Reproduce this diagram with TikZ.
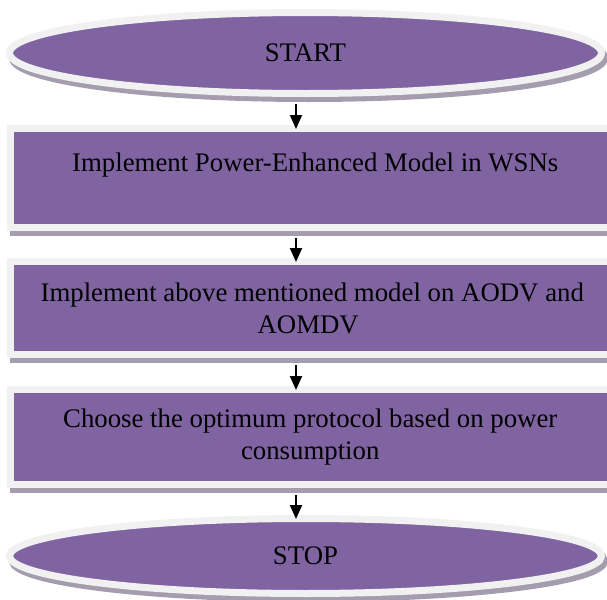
\documentclass[tikz,border=0pt]{standalone}
\usepackage{fontspec}
\setmainfont{Liberation Serif}
\usepackage{tikz}
\usetikzlibrary{shapes.geometric, arrows.meta, positioning}
\tikzset{>={Triangle[width=6pt,length=7pt]}}
\definecolor{mypurple}{HTML}{8064A2}
\definecolor{myrim}{HTML}{F1F1F1}
\definecolor{myshadow}{HTML}{A39DAD}

\tikzset{
	shadowed/.style={preaction={draw=myshadow, fill=myshadow, transform canvas={xshift=1.5pt, yshift=-2.5pt}}},
	flowbox/.style={rectangle, shadowed, draw=myrim, fill=mypurple, line width=3.5pt, minimum width=304.75pt, inner sep=0pt, align=center, font=\fontsize{13.4}{16}\selectfont},
	terminal/.style={ellipse, shadowed, draw=myrim, fill=mypurple, line width=3.5pt, minimum width=296pt, inner sep=0pt, font=\fontsize{13.4}{16}\selectfont},
	flowarrow/.style={->, line width=1pt, black, shorten <=3.5pt, shorten >=-2pt}
}

\begin{document}
\begin{tikzpicture}[x=0.5pt, y=-0.5pt]
		\useasboundingbox (0,0) rectangle (607,600);
		\clip (0,0) rectangle (607,600);
		\node[terminal, minimum height=40.5pt] (start) at (305.5,53) {START};
		\node[flowbox, minimum height=49.5pt] (implmodel) at (315.25,178) {Implement Power-Enhanced Model in WSNs\\ \mbox{}};
		\node[flowbox, minimum height=46.5pt] (aodvmodel) at (315.25,308) {\hspace*{-3pt}Implement above mentioned model on AODV and\\ \hspace*{-7pt}AOMDV};
		\node[flowbox, minimum height=47.5pt] (choose) at (315.25,437) {\hspace*{-5pt}Choose the optimum protocol based on power\\ \hspace*{-5pt}consumption};
		\node[terminal, minimum height=37.5pt] (stop) at (305.5,556) {STOP};
		\coordinate (axis) at (296,0);
		\draw[flowarrow] (start.south -| axis) -- (implmodel.north -| axis);
		\draw[flowarrow] (implmodel.south -| axis) -- (aodvmodel.north -| axis);
		\draw[flowarrow] (aodvmodel.south -| axis) -- (choose.north -| axis);
		\draw[flowarrow] (choose.south -| axis) -- (stop.north -| axis);
	\end{tikzpicture}
\end{document}
